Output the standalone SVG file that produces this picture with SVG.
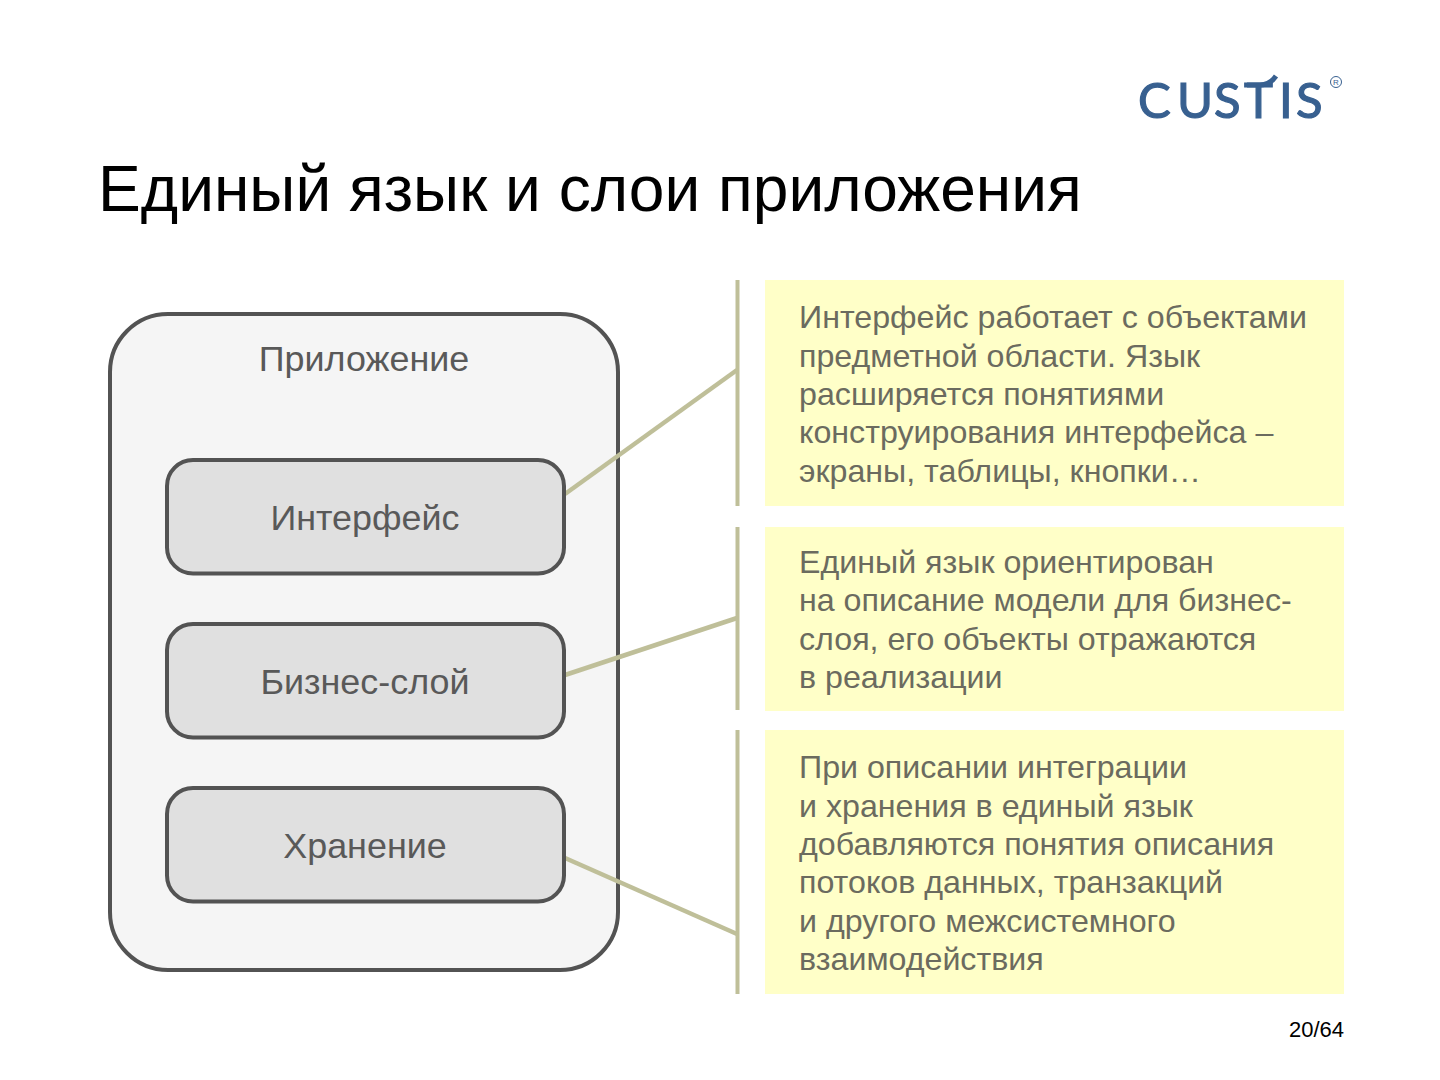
<svg xmlns="http://www.w3.org/2000/svg" width="1440" height="1080" viewBox="0 0 1440 1080">
<style>
text{font-family:"Liberation Sans",Arial,sans-serif}
.title{font-size:64.100px;fill:#000}
.node{font-size:35.900px;fill:#595959;text-anchor:middle}
.body{font-size:32.200px;fill:#6b6b5f}
.box{fill:#e0e0e0;stroke:#535353;stroke-width:4}
.note{fill:#ffffc8}
.conn{stroke:#bfbf99;stroke-width:4.500;fill:none}
.bar{stroke:#bfbf99;stroke-width:4;fill:none}
</style>
<defs>
<clipPath id="logoClip"><path d="M1130 60H1269V82H1280V92H1269V130H1130ZM1269 60H1350V130H1269V92H1280V82H1269Z"/></clipPath>
</defs>
<rect width="1440" height="1080" fill="#fff"/>
<g id="logo" fill="#386090">
<text x="1138 1177 1214 1244 1279 1296" y="118" font-size="49" stroke="#386090" stroke-width="1.200" clip-path="url(#logoClip)" style="font-family:Lato,sans-serif">CUSTIS</text>
<path d="M1247 85H1260Q1270 85 1276 76" fill="none" stroke="#386090" stroke-width="5"/>
<circle cx="1336" cy="82" r="5.500" fill="none" stroke="#386090" stroke-width="1"/>
<text x="1336" y="85" font-size="8" text-anchor="middle">R</text>
</g>
<text id="title" class="title" x="98" y="211">Единый язык и слои приложения</text>
<g id="app">
<rect x="110" y="314" width="508" height="656" rx="58" fill="#f5f5f5" stroke="#535353" stroke-width="4"/>
<text class="node" x="364" y="371">Приложение</text>
</g>
<g id="connectors">
<path class="conn" d="M565 494L737 370"/>
<path class="conn" d="M565 675L737 618"/>
<path class="conn" d="M565 858L737 934"/>
<path class="bar" d="M737.500 280V506"/>
<path class="bar" d="M737.500 527V710"/>
<path class="bar" d="M737.500 730V994"/>
</g>
<g id="interface">
<rect class="box" x="167" y="460" width="397" height="113.500" rx="26"/>
<text class="node" x="365" y="530">Интерфейс</text>
</g>
<g id="business">
<rect class="box" x="167" y="624" width="397" height="113.500" rx="26"/>
<text class="node" x="365" y="694">Бизнес-слой</text>
</g>
<g id="storage">
<rect class="box" x="167" y="788" width="397" height="113.500" rx="26"/>
<text class="node" x="365" y="858">Хранение</text>
</g>
<g id="note1">
<rect class="note" x="765" y="280" width="579" height="226"/>
<text class="body" x="799" y="328">Интерфейс работает с объектами</text>
<text class="body" x="799" y="367">предметной области. Язык</text>
<text class="body" x="799" y="405">расширяется понятиями</text>
<text class="body" x="799" y="443">конструирования интерфейса –</text>
<text class="body" x="799" y="482">экраны, таблицы, кнопки…</text>
</g>
<g id="note2">
<rect class="note" x="765" y="527" width="579" height="184"/>
<text class="body" x="799" y="573">Единый язык ориентирован</text>
<text class="body" x="799" y="611">на описание модели для бизнес-</text>
<text class="body" x="799" y="650">слоя, его объекты отражаются</text>
<text class="body" x="799" y="688">в реализации</text>
</g>
<g id="note3">
<rect class="note" x="765" y="730" width="579" height="264"/>
<text class="body" x="799" y="778">При описании интеграции</text>
<text class="body" x="799" y="817">и хранения в единый язык</text>
<text class="body" x="799" y="855">добавляются понятия описания</text>
<text class="body" x="799" y="893">потоков данных, транзакций</text>
<text class="body" x="799" y="932">и другого межсистемного</text>
<text class="body" x="799" y="970">взаимодействия</text>
</g>
<text id="page" x="1344" y="1037" font-size="22" text-anchor="end" fill="#000">20/64</text>
</svg>
